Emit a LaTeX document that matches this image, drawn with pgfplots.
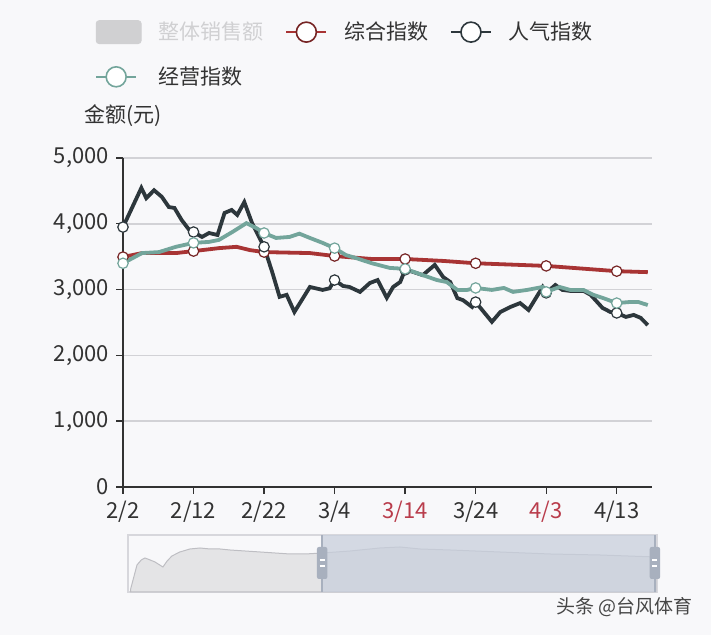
\documentclass[border=0pt]{standalone}
\usepackage{pgfplots}
\pgfplotsset{compat=1.18}
\usepackage{fontspec}
\setmainfont{Noto Sans CJK SC}
\definecolor{cRed}{RGB}{168,52,52}
\definecolor{cBlk}{RGB}{45,55,60}
\definecolor{cTeal}{RGB}{115,165,155}
\definecolor{cGrid}{RGB}{210,210,214}
\definecolor{cAxis}{RGB}{50,50,50}
\definecolor{cBg}{RGB}{248,248,250}
\definecolor{cTickRed}{RGB}{185,60,75}
\definecolor{cLegGrey}{RGB}{208,208,210}
\definecolor{cSlBorder}{RGB}{215,215,220}
\definecolor{cSlArea}{RGB}{228,228,230}
\definecolor{cSlLine}{RGB}{190,190,195}
\definecolor{cSel}{RGB}{200,207,220}
\definecolor{cHandle}{RGB}{168,176,190}
\begin{document}
\begin{tikzpicture}
\fill[cBg] (0pt,0pt) rectangle (355.5pt,317.5pt);
\useasboundingbox (0pt,0pt) rectangle (355.5pt,317.5pt);
\begin{axis}[
  scale only axis, width=264.5pt, height=164.5pt,
  at={(61.5pt,74pt)}, anchor=south west,
  xmin=0, xmax=75, ymin=0, ymax=5000,
  clip=false,
  axis x line=bottom, axis y line=left,
  axis line style={cAxis, line width=0.7pt, -},
  xtick={0,10,...,70},
  xticklabels={2/2,2/12,2/22,3/4,\textcolor{cTickRed}{3/14},3/24,\textcolor{cTickRed}{4/3},4/13},
  ytick={0,1000,...,5000},
  tick align=outside, major tick length=3.5pt,
  tick style={cAxis, line width=0.7pt},
  ymajorgrids, grid style={cGrid, line width=0.8pt},
  /pgf/number format/1000 sep={,},
  /pgf/number format/assume math mode=true,
  tick label style={font=\fontsize{11}{13}\selectfont, text=cAxis},
  ylabel={金额(元)},
  ylabel style={rotate=-90, at={(axis description cs:0,1)}, anchor=south, yshift=12pt, font=\fontsize{10.5}{12}\selectfont, text=cAxis},
  legend columns=3,
  legend style={at={(-0.053,1.42)}, anchor=north west, draw=none, fill=none, inner sep=0pt,
    font=\fontsize{10.5}{12}\selectfont, text=cAxis,
    nodes={inner sep=0pt, anchor=west},
    /tikz/every odd column/.style={column sep=8.5pt},
    /tikz/every even column/.style={column sep=11pt},
    row sep=11pt},
]
\addlegendimage{legend image code/.code={\fill[cLegGrey, rounded corners=1.5pt] (0pt,-5.75pt) rectangle (22.5pt,5.75pt);}}
\addlegendentry{\textcolor{cLegGrey}{整体销售额}}
\addlegendimage{legend image code/.code={\draw[cRed, line width=0.8pt] (0pt,0pt) -- (20pt,0pt); \draw[cRed!70!black, line width=0.8pt, fill=white] (10pt,0pt) circle (5pt);}}
\addlegendentry{综合指数}
\addlegendimage{legend image code/.code={\draw[cBlk, line width=0.8pt] (0pt,0pt) -- (20pt,0pt); \draw[cBlk, line width=0.8pt, fill=white] (10pt,0pt) circle (5pt);}}
\addlegendentry{人气指数}
\addlegendimage{legend image code/.code={\draw[cTeal, line width=0.8pt] (0pt,0pt) -- (20pt,0pt); \draw[cTeal, line width=0.8pt, fill=white] (10pt,0pt) circle (5pt);}}
\addlegendentry{经营指数}

% 综合指数
\addplot[cRed, line width=1.9pt, forget plot] coordinates {
(0,3495) (2.7,3555) (7.5,3555) (10,3585) (13.6,3630) (16.1,3650) (18,3600) (20,3570) (26.5,3555) (30,3510) (35.3,3465) (40,3465) (45.5,3435) (50,3400) (55,3380) (60,3360) (65,3320) (70,3280) (74.4,3265)};
% 人气指数
\addplot[cBlk, line width=1.9pt, forget plot] coordinates {
(0,3950) (2.6,4545) (3.3,4390) (4.4,4510) (5.5,4410) (6.5,4255) (7.3,4240) (8.3,4060) (9.4,3905) (10,3875) (11.2,3800) (12.2,3860) (13.4,3830) (14.4,4165) (15.4,4210) (16.2,4135) (17.2,4330) (18.3,4010) (20,3650) (21.2,3250) (22.2,2890) (23.2,2920) (24.3,2660) (26.5,3040) (28.3,2995) (29.3,3020) (30,3145) (31.2,3055) (32.1,3040) (33.6,2965) (35,3100) (36.1,3145) (37.4,2875) (38.3,3040) (39.3,3115) (40,3300) (41.1,3270) (42.5,3220) (44.2,3375) (45.4,3190) (46.4,3115) (47.4,2870) (48.2,2840) (49.5,2735) (50,2810) (52.3,2510) (53.5,2660) (54.9,2735) (56.3,2795) (57.5,2690) (59.5,3040) (60,2950) (61.3,3070) (62.3,2995) (63.4,2980) (65.3,2980) (66.3,2920) (68,2720) (69.1,2660) (70,2645) (71.3,2585) (72.4,2615) (73.4,2570) (74.4,2460)};
% 经营指数
\addplot[cTeal, line width=1.9pt, forget plot] coordinates {
(0,3400) (2.7,3555) (5.1,3570) (7.5,3650) (10,3710) (12.2,3725) (13.6,3755) (15.5,3875) (17.5,4010) (18.9,3935) (20,3860) (21.7,3785) (23.6,3800) (25,3850) (26.5,3785) (28.3,3710) (30,3630) (31.6,3525) (33,3480) (35.3,3400) (37.8,3330) (40,3315) (42.5,3220) (44.5,3145) (45.9,3115) (47.4,2995) (48.8,2995) (50,3025) (52.3,2995) (54,3025) (55.3,2965) (57.3,2995) (59.5,3040) (60,2965) (61.9,3040) (63.4,2995) (65.3,2995) (66.7,2920) (68.1,2870) (70,2795) (71.7,2810) (73.1,2810) (74.4,2765)};
% markers
\addplot[only marks, mark=*, mark size=2.6pt, mark options={fill=white, draw=cRed!70!black, line width=0.6pt}, forget plot] coordinates {
(0,3495) (10,3585) (20,3570) (30,3510) (40,3465) (50,3400) (60,3360) (70,3280)};
\addplot[only marks, mark=*, mark size=2.6pt, mark options={fill=white, draw=cBlk, line width=0.6pt}, forget plot] coordinates {
(0,3950) (10,3875) (20,3650) (30,3145) (40,3300) (50,2810) (60,2950) (70,2645)};
\addplot[only marks, mark=*, mark size=2.6pt, mark options={fill=white, draw=cTeal, line width=0.6pt}, forget plot] coordinates {
(0,3400) (10,3710) (20,3860) (30,3630) (40,3315) (50,3025) (60,2965) (70,2795)};
\end{axis}

% data zoom slider
\begin{axis}[
  scale only axis, width=264.5pt, height=28.5pt,
  at={(64pt,21.5pt)}, anchor=south west,
  xmin=0, xmax=100, ymin=0, ymax=57,
  xtick=\empty, ytick=\empty,
  axis line style={cSlBorder, line width=0.6pt},
  clip=false,
]
\addplot[fill=cSlArea, draw=cSlLine, line width=0.5pt] coordinates {
(0.5,3) (1.1,15) (1.7,27) (2.5,32) (3.2,34) (4.2,32) (5.1,30) (6.0,27) (6.6,25) (7.4,31) (8.3,36) (9.8,40) (11.7,43) (13.6,44) (15.5,43) (17.4,43) (19.3,42) (22.1,41) (25.0,40) (27.8,39) (30.6,38) (33.5,38) (36.7,39) (42.0,41) (47.6,44) (51.4,45) (55.2,43) (60.9,42) (70.3,40) (79.8,38) (89.2,37) (99.8,35)} \closedcycle;
\fill[cSel, opacity=0.75] (axis cs:36.7,0) rectangle (axis cs:99.6,57);
\draw[cHandle, line width=1pt] (axis cs:36.7,0) -- (axis cs:36.7,57);
\draw[cHandle, line width=1pt] (axis cs:99.6,0) -- (axis cs:99.6,57);
\fill[cHandle, rounded corners=1pt] ([xshift=-2.6pt]axis cs:36.7,13) rectangle ([xshift=2.6pt]axis cs:36.7,45);
\fill[cHandle, rounded corners=1pt] ([xshift=-2.6pt]axis cs:99.6,13) rectangle ([xshift=2.6pt]axis cs:99.6,45);
\draw[white, line width=0.6pt] ([xshift=-1.2pt]axis cs:36.7,32) -- ([xshift=1.2pt]axis cs:36.7,32);
\draw[white, line width=0.6pt] ([xshift=-1.2pt]axis cs:36.7,26) -- ([xshift=1.2pt]axis cs:36.7,26);
\draw[white, line width=0.6pt] ([xshift=-1.2pt]axis cs:99.6,32) -- ([xshift=1.2pt]axis cs:99.6,32);
\draw[white, line width=0.6pt] ([xshift=-1.2pt]axis cs:99.6,26) -- ([xshift=1.2pt]axis cs:99.6,26);
\end{axis}
\node[anchor=east, font=\fontsize{9.5}{11}\selectfont, text={rgb,255:red,70;green,70;blue,70}] at (350pt,14pt) {头条 @台风体育};
\end{tikzpicture}
\end{document}
